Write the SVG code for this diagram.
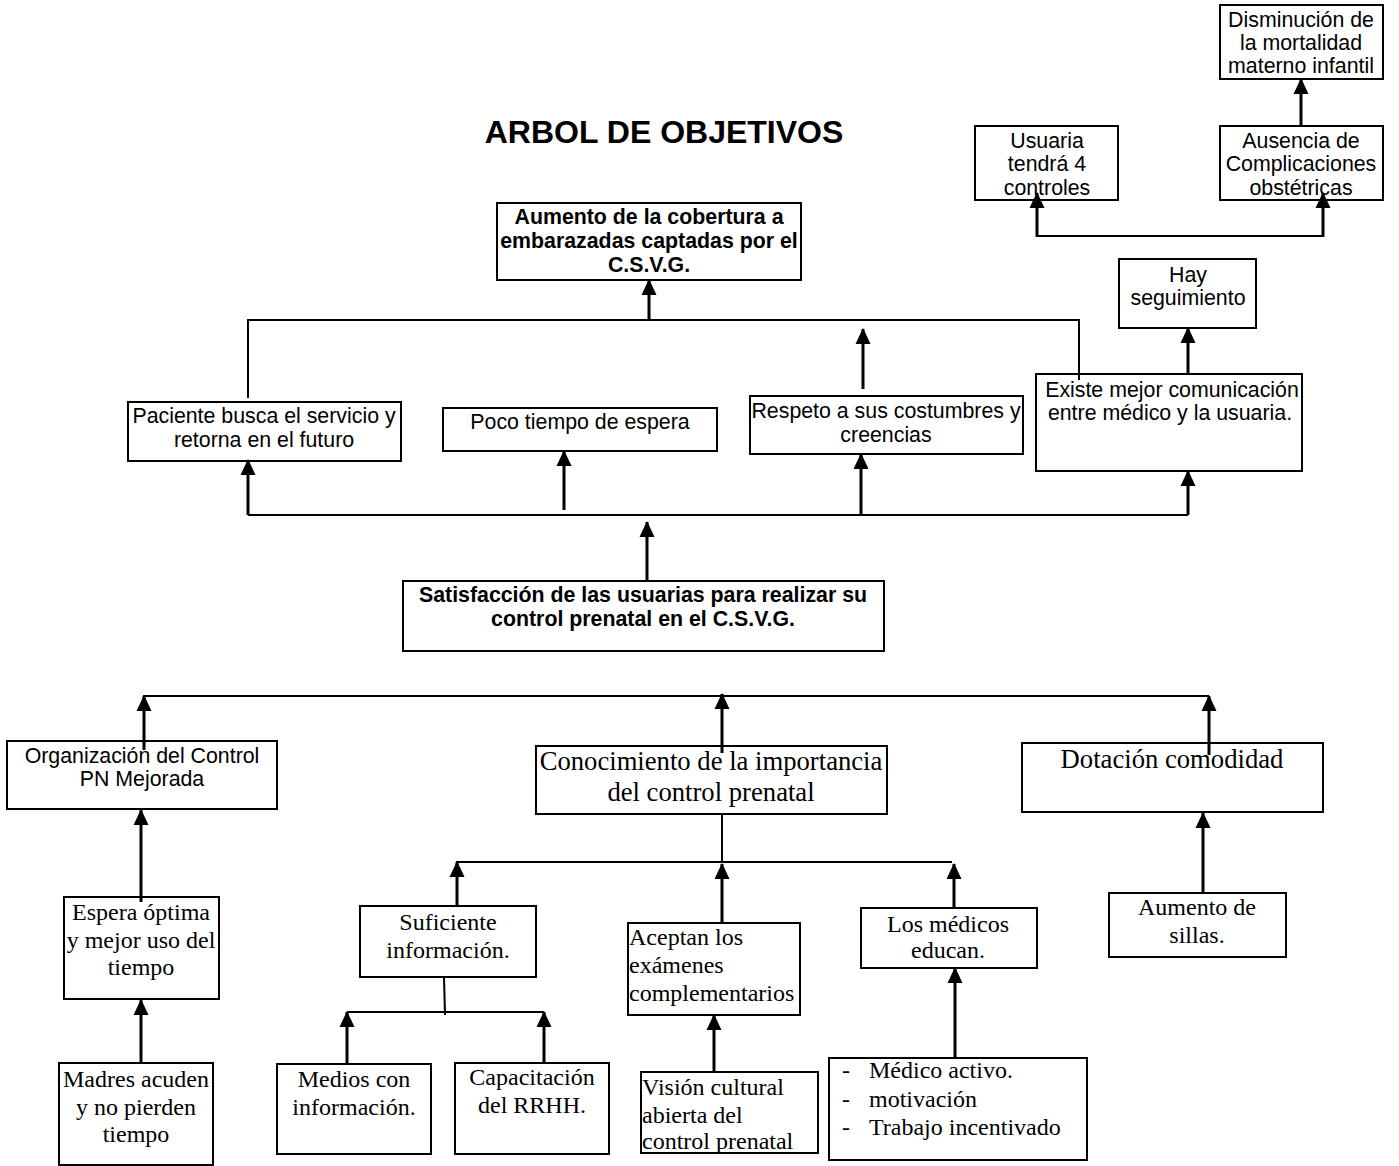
<svg xmlns="http://www.w3.org/2000/svg" width="1399" height="1166" viewBox="0 0 1399 1166">
<style>
rect{fill:#fff;stroke:#000;stroke-width:2}
rect.bg{stroke:none}
.a{font-family:"Liberation Sans",Arial,sans-serif;font-size:21.33px;fill:#000}
.b{font-family:"Liberation Sans",Arial,sans-serif;font-size:21.33px;font-weight:bold;fill:#000}
.t{font-family:"Liberation Serif","Times New Roman",serif;font-size:24px;fill:#000}
.tl{font-family:"Liberation Serif","Times New Roman",serif;font-size:26.67px;fill:#000}
.c{text-anchor:middle}
.ln{stroke:#000;stroke-width:2;fill:none}
.ar{stroke:#000;stroke-width:3;fill:none;marker-end:url(#ah)}
</style>
<defs>
<marker id="ah" viewBox="0 0 16 16" refX="15" refY="8" markerWidth="16" markerHeight="16" markerUnits="userSpaceOnUse" orient="auto">
<path d="M0,0.5 L16,8 L0,15.5 z" fill="#000"/>
</marker>
</defs>
<rect class="bg" x="0" y="0" width="1399" height="1166"/>
<text x="664" y="143" class="b c" style="font-size:32px">ARBOL DE OBJETIVOS</text>
<g id="n-disminucion"><rect x="1220" y="5" width="163" height="74"/>
<text class="a c" x="1301" y="27">Disminución de</text><text class="a c" x="1301" y="50">la mortalidad</text><text class="a c" x="1301" y="73">materno infantil</text></g>
<g id="n-usuaria"><rect x="975" y="126" width="143" height="74"/>
<text class="a c" x="1047" y="148">Usuaria</text><text class="a c" x="1047" y="171">tendrá 4</text><text class="a c" x="1047" y="195">controles</text></g>
<g id="n-ausencia"><rect x="1220" y="126" width="163" height="74"/>
<text class="a c" x="1301" y="148">Ausencia de</text><text class="a c" x="1301" y="171">Complicaciones</text><text class="a c" x="1301" y="195">obstétricas</text></g>
<g id="n-aumento"><rect x="497" y="203" width="304" height="77"/>
<text class="b c" x="649" y="224">Aumento de la cobertura a</text><text class="b c" x="649" y="248">embarazadas captadas por el</text><text class="b c" x="649" y="272">C.S.V.G.</text></g>
<g id="n-hay"><rect x="1119" y="259" width="137" height="69"/>
<text class="a c" x="1188" y="282">Hay</text><text class="a c" x="1188" y="305">seguimiento</text></g>
<g id="n-paciente"><rect x="128" y="402" width="273" height="59"/>
<text class="a c" x="264" y="423">Paciente busca el servicio y</text><text class="a c" x="264" y="447">retorna en el futuro</text></g>
<g id="n-poco"><rect x="443" y="408" width="274" height="43"/>
<text class="a c" x="580" y="429">Poco tiempo de espera</text></g>
<g id="n-respeto"><rect x="750" y="396" width="273" height="58"/>
<text class="a c" x="886" y="418">Respeto a sus costumbres y</text><text class="a c" x="886" y="442">creencias</text></g>
<g id="n-existe"><rect x="1036" y="374" width="266" height="97"/>
<text class="a c" x="1172" y="397">Existe mejor comunicación</text><text class="a c" x="1170" y="420">entre médico y la usuaria.</text></g>
<g id="n-satisfaccion"><rect x="403" y="581" width="481" height="70"/>
<text class="b c" x="643" y="602">Satisfacción de las usuarias para realizar su</text><text class="b c" x="643" y="626">control prenatal en el C.S.V.G.</text></g>
<g id="n-organizacion"><rect x="7" y="741" width="270" height="68"/>
<text class="a c" x="142" y="763">Organización del Control</text><text class="a c" x="142" y="786">PN Mejorada</text></g>
<g id="n-conocimiento"><rect x="536" y="746" width="351" height="68"/>
<text class="tl c" x="711" y="770">Conocimiento de la importancia</text><text class="tl c" x="711" y="801">del control prenatal</text></g>
<g id="n-dotacion"><rect x="1022" y="743" width="301" height="69"/>
<text class="tl c" x="1172" y="768">Dotación comodidad</text></g>
<g id="n-espera"><rect x="64" y="897" width="155" height="102"/>
<text class="t c" x="141" y="920">Espera óptima</text><text class="t c" x="141" y="948">y mejor uso del</text><text class="t c" x="141" y="975">tiempo</text></g>
<g id="n-suficiente"><rect x="360" y="906" width="176" height="71"/>
<text class="t c" x="448" y="930">Suficiente</text><text class="t c" x="448" y="958">información.</text></g>
<g id="n-aceptan"><rect x="628" y="923" width="172" height="92"/>
<text class="t" x="629" y="945">Aceptan los</text><text class="t" x="629" y="973">exámenes</text><text class="t" x="629" y="1001">complementarios</text></g>
<g id="n-medicos"><rect x="861" y="908" width="176" height="60"/>
<text class="t c" x="948" y="932">Los médicos</text><text class="t c" x="948" y="958">educan.</text></g>
<g id="n-sillas"><rect x="1109" y="893" width="177" height="64"/>
<text class="t c" x="1197" y="915">Aumento de</text><text class="t c" x="1197" y="943">sillas.</text></g>
<g id="n-madres"><rect x="59" y="1063" width="154" height="102"/>
<text class="t c" x="136" y="1087">Madres acuden</text><text class="t c" x="136" y="1115">y no pierden</text><text class="t c" x="136" y="1142">tiempo</text></g>
<g id="n-medios"><rect x="277" y="1064" width="154" height="90"/>
<text class="t c" x="354" y="1087">Medios con</text><text class="t c" x="354" y="1115">información.</text></g>
<g id="n-capacitacion"><rect x="455" y="1063" width="154" height="91"/>
<text class="t c" x="532" y="1085">Capacitación</text><text class="t c" x="532" y="1113">del RRHH.</text></g>
<g id="n-vision"><rect x="641" y="1072" width="177" height="81"/>
<text class="t" x="642" y="1095">Visión cultural</text><text class="t" x="642" y="1123">abierta del</text><text class="t" x="642" y="1149">control prenatal</text></g>
<g id="n-medico-activo"><rect x="829" y="1058" width="258" height="102"/>
<text class="t" x="842" y="1078">-</text><text class="t" x="869" y="1078">Médico activo.</text>
<text class="t" x="842" y="1107">-</text><text class="t" x="869" y="1107">motivación</text>
<text class="t" x="842" y="1135">-</text><text class="t" x="869" y="1135">Trabajo incentivado</text></g>
<g id="connectors">
<path class="ln" d="M1037,236 H1323"/>
<path class="ar" d="M1037,237 V193"/>
<path class="ar" d="M1323,237 V193"/>
<path class="ar" d="M1301,126 V79"/>
<path class="ln" d="M248,398 V320 H1079 V380"/>
<path class="ar" d="M649,320 V280"/>
<path class="ar" d="M863,389 V329"/>
<path class="ar" d="M1188,374 V328"/>
<path class="ln" d="M248,515 H1188"/>
<path class="ar" d="M248,515 V460"/>
<path class="ar" d="M564,510 V451"/>
<path class="ar" d="M861,515 V454"/>
<path class="ar" d="M1188,515 V471"/>
<path class="ar" d="M647,581 V522"/>
<path class="ln" d="M143,696 H1209"/>
<path class="ar" d="M144,750 V696"/>
<path class="ar" d="M722,753 V694"/>
<path class="ar" d="M1209,755 V696"/>
<path class="ar" d="M141,902 V810"/>
<path class="ar" d="M141,1063 V1000"/>
<path class="ln" d="M722,814 V862"/>
<path class="ln" d="M456,862 H952"/>
<path class="ar" d="M457,906 V862"/>
<path class="ar" d="M722,923 V864"/>
<path class="ar" d="M954,908 V864"/>
<path class="ln" d="M444,977 L445,1015"/>
<path class="ln" d="M347,1012 H544"/>
<path class="ar" d="M347,1064 V1012"/>
<path class="ar" d="M544,1063 V1012"/>
<path class="ar" d="M714,1072 V1015"/>
<path class="ar" d="M955,1058 V968"/>
<path class="ar" d="M1203,893 V813"/>
</g>
</svg>
